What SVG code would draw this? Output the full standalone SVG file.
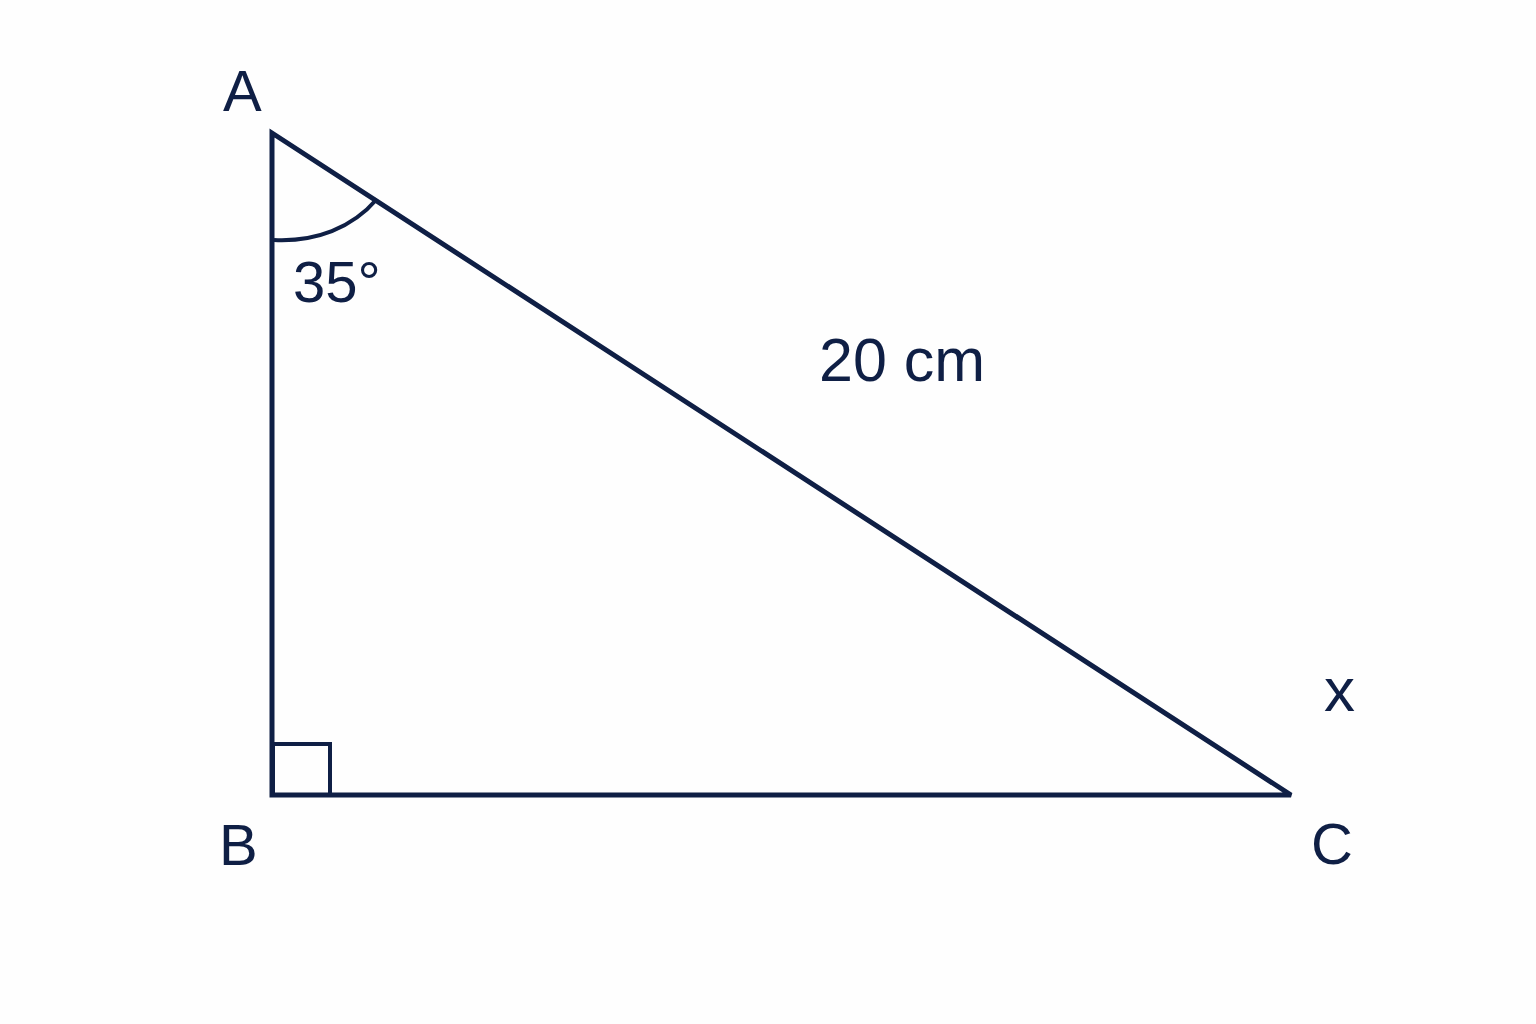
<svg xmlns="http://www.w3.org/2000/svg" width="1536" height="1024" viewBox="0 0 1536 1024">
<style>
.ln{fill:none;stroke:#0f1f45;stroke-width:5;stroke-linejoin:miter;stroke-miterlimit:3;stroke-linecap:butt}
.thin{fill:none;stroke:#0f1f45;stroke-width:4}
.lbl{font-family:"Liberation Sans",Arial,sans-serif;fill:#0f1f45;font-size:58px}
</style>
<rect width="1536" height="1024" fill="#fefefe"/>
<g id="connectors">
<path class="ln" d="M272,133 L272,795 L1291,795 Z"/>
<path class="thin" d="M274,240 C316,242 352,228 377,199"/>
<rect class="thin" x="273" y="744" width="57" height="51"/>
</g>
<g id="A"><text class="lbl" x="223" y="111">A</text></g>
<g id="B"><text class="lbl" x="219" y="865">B</text></g>
<g id="C"><text class="lbl" x="1311" y="864">C</text></g>
<g id="angle"><text class="lbl" x="293" y="302">35°</text></g>
<g id="hyp"><text class="lbl" x="819" y="381" style="font-size:61px">20 cm</text></g>
<g id="x"><text class="lbl" x="1324" y="711" style="font-size:62px">x</text></g>
</svg>
